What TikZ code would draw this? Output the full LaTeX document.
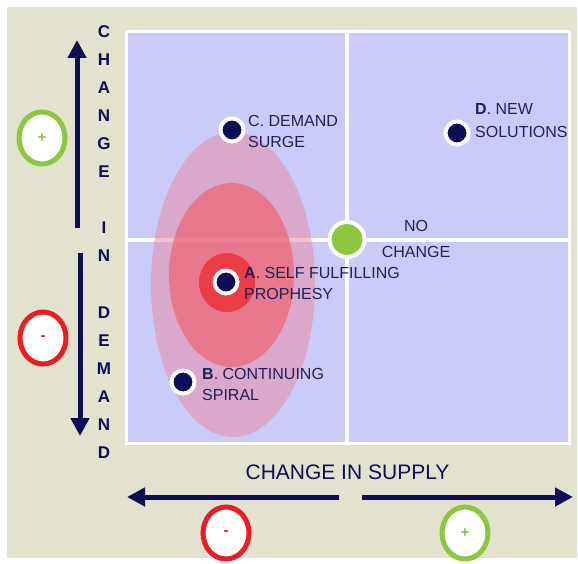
\documentclass[tikz,border=0pt]{standalone}
\usepackage{fontspec}
\setmainfont{Liberation Sans}
\usetikzlibrary{arrows.meta,shapes.geometric}
\definecolor{beige}{RGB}{226,226,206}
\definecolor{lav}{RGB}{203,203,250}
\definecolor{navy}{RGB}{14,14,86}
\definecolor{txt}{RGB}{32,32,92}
\definecolor{gr}{RGB}{141,198,63}
\definecolor{rd}{RGB}{237,28,36}
\definecolor{pkA}{RGB}{232,135,158}
\definecolor{pkB}{RGB}{240,95,110}
\definecolor{pkC}{RGB}{238,50,60}
\begin{document}
\begin{tikzpicture}[x=1pt,y=-1pt,
  lab/.style={anchor=north west, inner sep=0pt, align=left, text=txt, font=\fontsize{16}{21.5}\selectfont},
  dotnode/.style={circle, fill=navy, draw=white, line width=4pt, minimum size=23pt, inner sep=0pt},
  pm/.style={ellipse, fill=white, line width=5pt, minimum width=46pt, minimum height=52pt, inner sep=0pt, font=\bfseries\fontsize{15}{15}\selectfont},
  axarrow/.style={draw=navy, line width=5pt, -{Triangle[length=18pt,width=18pt]}},
  divline/.style={draw=white, line width=4pt},
]
\useasboundingbox (0,0) rectangle (578,564);
\fill[white] (0,0) rectangle (578,564);
\fill[beige] (7,7) rectangle (577,558);
% panel
\fill[lav] (126,32) rectangle (569,443);
\draw[divline] (347,32) -- (347,443);
\draw[divline] (126,239.5) -- (569,239.5);
% zones
\fill[pkA, opacity=0.5] (233,284.5) ellipse [x radius=82, y radius=152.5];
\fill[pkB, opacity=0.65] (231.5,275) ellipse [x radius=62.5, y radius=92];
\fill[pkC, opacity=0.85] (227,282.5) ellipse [x radius=28, y radius=29.5];
\draw[white, line width=3pt] (126,32) rectangle (569,443);
% centre point
\node[circle, fill=gr, draw=white, line width=4pt, minimum size=35pt, inner sep=0pt] (nc) at (347,239.5) {};
\node[anchor=north, inner sep=0pt, align=center, text=txt, font=\fontsize{16}{26}\selectfont] (nct) at (416,220) {NO\\CHANGE};
% points
\node[dotnode] (C) at (232,130) {};
\node[lab] (Ct) at (248,115) {C. DEMAND\\SURGE};
\node[dotnode] (A) at (226,282) {};
\node[lab] (At) at (244,267) {\textbf{A}. SELF FULFILLING\\PROPHESY};
\node[dotnode] (B) at (183,382) {};
\node[lab] (Bt) at (202,368) {\textbf{B}. CONTINUING\\SPIRAL};
\node[dotnode] (D) at (457,133) {};
\node[lab, font=\fontsize{16}{23}\selectfont] (Dt) at (475,103) {\textbf{D}. NEW\\SOLUTIONS};
% vertical axis
\node[anchor=north, inner sep=0pt, align=center, text=navy, font=\bfseries\fontsize{17}{28.1}\selectfont] (vt) at (104,25)
  {C\\H\\A\\N\\G\\E\\\mbox{}\\I\\N\\\mbox{}\\D\\E\\M\\A\\N\\D};
\coordinate (u0) at (77,228);
\coordinate (u1) at (77,40);
\coordinate (d0) at (80,253);
\coordinate (d1) at (80,436);
\draw[axarrow] (u0) -- (u1);
\draw[axarrow] (d0) -- (d1);
% horizontal axis
\node[text=navy, inner sep=0pt, font=\fontsize{21}{21}\selectfont] (ht) at (347.5,472) {CHANGE IN SUPPLY};
\coordinate (l0) at (339,497);
\coordinate (l1) at (127,497);
\coordinate (r0) at (362,497);
\coordinate (r1) at (573,497);
\draw[axarrow] (l0) -- (l1);
\draw[axarrow] (r0) -- (r1);
% plus / minus markers
\node[pm, draw=gr, text=gr] (pu) at (42,138) {+};
\node[pm, draw=rd, text=rd] (ml) at (43,338) {-};
\node[pm, draw=rd, text=rd] (mb) at (226,533) {-};
\node[pm, draw=gr, text=gr] (pb) at (465,533) {+};
\end{tikzpicture}
\end{document}
